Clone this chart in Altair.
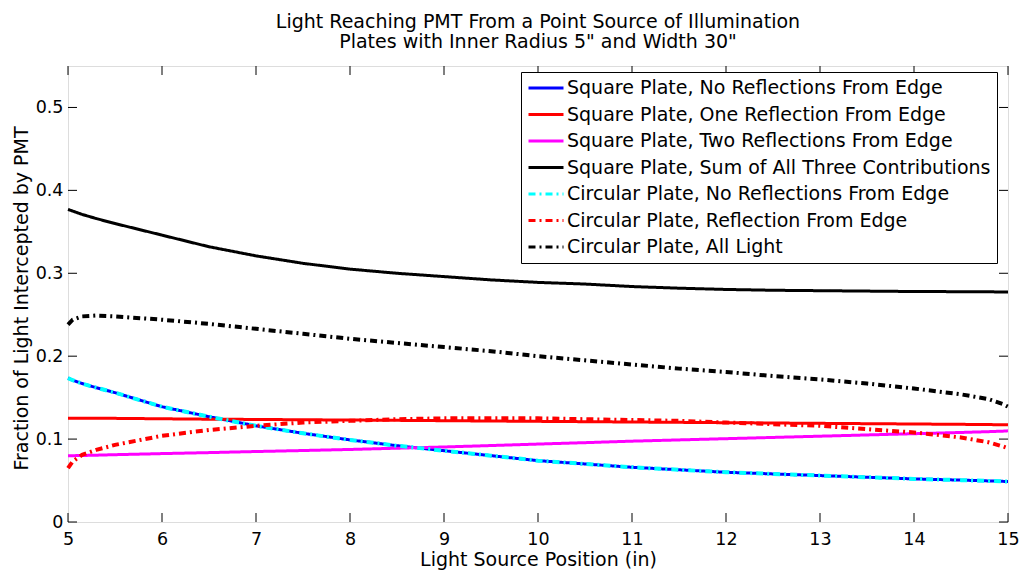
import altair as alt
import pandas as pd

# ---------------- data ----------------
X = [5.0, 5.05, 5.15, 5.3, 5.5, 6.0, 6.5, 7.0, 7.5, 8.0, 8.5, 9.0, 9.5,
     10.0, 10.5, 11.0, 11.5, 12.0, 12.5, 13.0, 13.5, 14.0, 14.5, 14.8, 14.95, 15.0]

SQ_NONE = [0.1735, 0.171, 0.167, 0.162, 0.156, 0.139, 0.127, 0.116, 0.107, 0.099, 0.092,
           0.086, 0.080, 0.074, 0.070, 0.066, 0.063, 0.060, 0.058, 0.056, 0.054, 0.052,
           0.0505, 0.0495, 0.049, 0.0488]
SQ_ONE = [0.125, 0.125, 0.125, 0.125, 0.125, 0.1245, 0.124, 0.1237, 0.1233, 0.123, 0.1226,
          0.1222, 0.1218, 0.1214, 0.121, 0.1206, 0.1202, 0.1198, 0.1194, 0.119, 0.1186,
          0.1182, 0.1178, 0.1175, 0.1173, 0.1172]
SQ_TWO = [0.080, 0.080, 0.0802, 0.0806, 0.0812, 0.0825, 0.0837, 0.085, 0.0862, 0.0875,
          0.089, 0.0905, 0.0922, 0.094, 0.0957, 0.0975, 0.099, 0.1005, 0.102, 0.1035,
          0.105, 0.1065, 0.108, 0.109, 0.1096, 0.110]
SQ_SUM = [0.377, 0.375, 0.371, 0.366, 0.360, 0.346, 0.332, 0.321, 0.312, 0.305, 0.300,
          0.296, 0.292, 0.289, 0.287, 0.284, 0.282, 0.2805, 0.2795, 0.279, 0.2785, 0.278,
          0.2778, 0.2776, 0.2775, 0.2775]
CIRC_NONE = [0.1735, 0.171, 0.167, 0.162, 0.156, 0.139, 0.127, 0.116, 0.107, 0.099, 0.092,
             0.086, 0.080, 0.074, 0.070, 0.066, 0.063, 0.060, 0.058, 0.056, 0.054, 0.052,
             0.0505, 0.0495, 0.049, 0.0488]
CIRC_EDGE = [0.065, 0.073, 0.081, 0.087, 0.093, 0.104, 0.111, 0.116, 0.120, 0.122, 0.124,
             0.125, 0.125, 0.125, 0.124, 0.123, 0.122, 0.120, 0.118, 0.116, 0.112, 0.108,
             0.102, 0.096, 0.091, 0.089]
CIRC_ALL = [0.238, 0.244, 0.248, 0.249, 0.248, 0.244, 0.239, 0.233, 0.227, 0.221, 0.216,
            0.211, 0.206, 0.200, 0.195, 0.190, 0.185, 0.181, 0.176, 0.172, 0.167, 0.161,
            0.154, 0.148, 0.142, 0.139]

SERIES_NAMES = [
    "Square Plate, No Reflections From Edge",
    "Square Plate, One Reflection From Edge",
    "Square Plate, Two Reflections From Edge",
    "Square Plate, Sum of All Three Contributions",
    "Circular Plate, No Reflections From Edge",
    "Circular Plate, Reflection From Edge",
    "Circular Plate, All Light",
]
SERIES_COLORS = ["#0000ff", "#ff0000", "#ff00ff", "#000000", "#00ffff", "#ff0000", "#000000"]
DASH_SOLID = [1, 0]
DASH_DOTDASH = [7, 4, 2, 4]
SERIES_DASHES = [DASH_SOLID] * 4 + [DASH_DOTDASH] * 3

X_TICKS = [5, 6, 7, 8, 9, 10, 11, 12, 13, 14, 15]
Y_TICKS = [0, 0.1, 0.2, 0.3, 0.4, 0.5]

TITLE = ["Light Reaching PMT From a Point Source of Illumination",
         "Plates with Inner Radius 5\" and Width 30\""]
X_TITLE = "Light Source Position (in)"
Y_TITLE = "Fraction of Light Intercepted by PMT"

# ---------------- tables ----------------
def long(names, arrays):
    rows = []
    for name, arr in zip(names, arrays):
        for i, (x, y) in enumerate(zip(X, arr)):
            rows.append({"x": x, "y": y, "series": name, "i": i})
    return pd.DataFrame(rows)

solid_df = long(SERIES_NAMES[:4], [SQ_NONE, SQ_ONE, SQ_TWO, SQ_SUM])
dash_df = long(SERIES_NAMES[4:], [CIRC_NONE, CIRC_EDGE, CIRC_ALL])
xt_df = pd.DataFrame({"t": X_TICKS})
yt_df = pd.DataFrame({"t": Y_TICKS})

W, H = 940, 456
FONT = "DejaVu Sans"
TXT = 19
NUM = 17.5

xscale = alt.Scale(domain=[5, 15], nice=False, zero=False)
yscale = alt.Scale(domain=[0, 0.55], nice=False, zero=False)

color = alt.Color("series:N", scale=alt.Scale(domain=SERIES_NAMES, range=SERIES_COLORS),
                  title=None,
                  legend=alt.Legend(orient="none", legendX=453, legendY=6,
                                    symbolType="stroke", symbolSize=1225,
                                    symbolStrokeWidth=3, labelFontSize=TXT,
                                    labelFont=FONT, labelColor="black", labelLimit=0,
                                    labelOffset=2, clipHeight=20, rowPadding=6.5,
                                    padding=6, strokeColor="black", fillColor="white",
                                    cornerRadius=0))
dash = alt.StrokeDash("series:N", scale=alt.Scale(domain=SERIES_NAMES, range=SERIES_DASHES),
                      title=None)

x_enc = alt.X("x:Q", scale=xscale,
              axis=alt.Axis(values=X_TICKS, format="d", title=X_TITLE, domain=False,
                            ticks=False, grid=False, labelFontSize=NUM, labelFont=FONT,
                            labelColor="black", labelPadding=8, labelFlush=False,
                            labelOverlap=False, titleFont=FONT, titleFontSize=TXT,
                            titleFontWeight="normal", titleColor="black",
                            titleBaseline="alphabetic", titleY=43))
y_enc = alt.Y("y:Q", scale=yscale,
              axis=alt.Axis(values=Y_TICKS, title=Y_TITLE, domain=False, ticks=False,
                            grid=False, labelFontSize=NUM, labelFont=FONT,
                            labelColor="black", labelPadding=5, labelFlush=False,
                            labelOverlap=False,
                            labelExpr="datum.value == 0 ? '0' : format(datum.value, '.1f')",
                            titleFont=FONT, titleFontSize=TXT, titleFontWeight="normal",
                            titleColor="black", titleBaseline="alphabetic",
                            titleX=-41, titleY=H / 2 + 4, titleAngle=-90,
                            titleAlign="center"))

solid = alt.Chart(solid_df).mark_line(strokeWidth=3).encode(
    x=x_enc, y=y_enc, color=color, strokeDash=dash, order="i:Q")
dashed = alt.Chart(dash_df).mark_line(strokeWidth=4).encode(
    x="x:Q", y="y:Q", color="series:N", strokeDash="series:N", order="i:Q")

tick_len = 9
xt_bottom = alt.Chart(xt_df).mark_rule(color="black", strokeWidth=1).encode(
    x=alt.X("t:Q", scale=xscale), y=alt.value(H), y2=alt.value(H - tick_len))
xt_top = alt.Chart(xt_df).mark_rule(color="black", strokeWidth=1).encode(
    x=alt.X("t:Q", scale=xscale), y=alt.value(0), y2=alt.value(tick_len))
yt_left = alt.Chart(yt_df).mark_rule(color="black", strokeWidth=1).encode(
    y=alt.Y("t:Q", scale=yscale), x=alt.value(0), x2=alt.value(tick_len))
yt_right = alt.Chart(yt_df).mark_rule(color="black", strokeWidth=1).encode(
    y=alt.Y("t:Q", scale=yscale), x=alt.value(W), x2=alt.value(W - tick_len))

chart = alt.layer(xt_bottom, xt_top, yt_left, yt_right, solid, dashed).properties(
    width=W, height=H,
    title=alt.TitleParams(text=TITLE, font=FONT, fontSize=TXT, fontWeight="normal",
                          color="black", anchor="middle", baseline="alphabetic",
                          lineHeight=20, offset=-1),
    autosize=alt.AutoSizeParams(type="none"),
    padding={"left": 68, "top": 66, "right": 13, "bottom": 49},
).configure_view(stroke="black", strokeWidth=1).configure(background="white")

chart.save("out.html", embed_options={"renderer": "svg", "actions": False})
